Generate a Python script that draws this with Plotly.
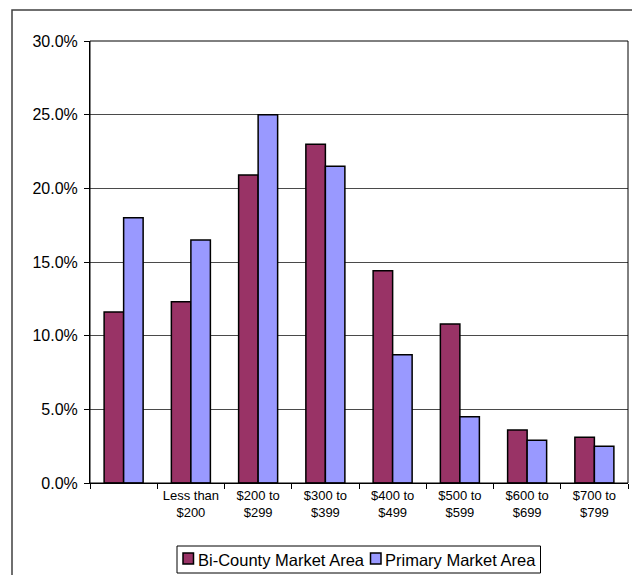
import plotly.graph_objects as go

categories = [" ", "Less than<br>$200", "$200 to<br>$299", "$300 to<br>$399",
              "$400 to<br>$499", "$500 to<br>$599", "$600 to<br>$699", "$700 to<br>$799"]
bi_county = [11.6, 12.3, 20.9, 23.0, 14.4, 10.8, 3.6, 3.1]
primary = [18.0, 16.5, 25.0, 21.5, 8.7, 4.5, 2.9, 2.5]
series_names = ["Bi-County Market Area", "Primary Market Area"]
series_colors = ["#993366", "#9999FF"]
y_ticks = [0, 5, 10, 15, 20, 25, 30]

W, H = 632, 575
L, R, T, B = 90, 4, 41, 92
pw, ph = W - L - R, H - T - B

def px_x(p):
    return (p - L) / pw

def px_y(p):
    return (H - B - p) / ph

fig = go.Figure()
for name, vals, col in zip(series_names, [bi_county, primary], series_colors):
    fig.add_trace(go.Bar(x=categories, y=vals, name=name, showlegend=False,
                         marker=dict(color=col, line=dict(color="black", width=1.5))))

font = "Liberation Sans, Arial, sans-serif"

shapes = [
    dict(type="rect", xref="paper", yref="paper", x0=0, x1=1, y0=0, y1=1,
         line=dict(color="black", width=1), layer="above"),
    dict(type="rect", xref="paper", yref="paper",
         x0=px_x(12), x1=px_x(640), y0=px_y(590), y1=px_y(10),
         line=dict(color="#404040", width=1.5), layer="above"),
    # legend box
    dict(type="rect", xref="paper", yref="paper",
         x0=px_x(177), x1=px_x(540.5), y0=px_y(573), y1=px_y(546),
         line=dict(color="black", width=1), fillcolor="white", layer="above"),
]
annotations = []
legend_sym_x = [183, 370.5]
legend_txt_x = [196, 383]
for name, col, sx, tx in zip(series_names, series_colors, legend_sym_x, legend_txt_x):
    shapes.append(dict(type="rect", xref="paper", yref="paper",
                       x0=px_x(sx), x1=px_x(sx + 10.5), y0=px_y(564), y1=px_y(553),
                       line=dict(color="black", width=1.5), fillcolor=col, layer="above"))
    annotations.append(dict(text=name, xref="paper", yref="paper",
                            x=px_x(tx), y=px_y(559.5), xanchor="left", yanchor="middle",
                            showarrow=False, font=dict(size=16.5, family=font, color="black")))

fig.update_layout(
    width=W, height=H,
    margin=dict(l=L, r=R, t=T, b=B, pad=0),
    paper_bgcolor="white", plot_bgcolor="white",
    barmode="group", bargap=0.42, bargroupgap=0,
    font=dict(family=font, color="black"),
    showlegend=False,
    xaxis=dict(type="category", showline=True, linecolor="black", linewidth=1,
               ticks="outside", tickson="boundaries", ticklen=5, tickcolor="black",
               tickfont=dict(size=13, family=font), showgrid=False,
               fixedrange=True),
    yaxis=dict(range=[0, 30], tickvals=y_ticks,
               ticktext=[f"{v:.1f}%" for v in y_ticks],
               showline=True, linecolor="black", linewidth=1,
               ticks="outside", ticklen=5, tickcolor="black",
               tickfont=dict(size=16, family=font), ticklabelstandoff=3,
               showgrid=True, gridcolor="#4a4a4a", gridwidth=1,
               zeroline=False, fixedrange=True),
    shapes=shapes,
    annotations=annotations,
)

fig.write_html("out.html")
